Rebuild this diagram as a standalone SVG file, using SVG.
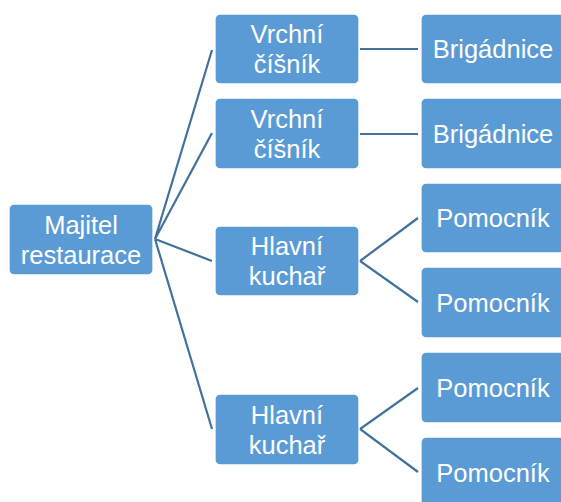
<svg xmlns="http://www.w3.org/2000/svg" width="561" height="502" viewBox="0 0 561 502">
<style>
.n{fill:#5B9BD5;stroke:#FFFFFF;stroke-width:1.3}
.t{font-family:"Liberation Sans",Arial,sans-serif;font-size:25.5px;fill:#FFFFFF;text-anchor:middle}
.c{stroke:#41719C;stroke-width:2.2;fill:none;stroke-linejoin:miter}
</style>
<rect width="561" height="502" fill="#FFFFFF"/>
<g id="connectors">
<path class="c" d="M155,239 L212,50 M155,239 L212,133 M155,239 L212,261 M155,239 L212,429"/>
<path class="c" d="M360,49 L418,49 M360,134 L418,134"/>
<path class="c" d="M418,218 L360,261 L418,302"/>
<path class="c" d="M418,388 L360,429 L418,472"/>
</g>
<g id="root">
<rect class="n" x="9" y="204" width="144" height="71" rx="5"/>
<text class="t"><tspan x="81" y="233.5">Majitel</tspan><tspan x="81" y="263.5">restaurace</tspan></text>
</g>
<g id="vrchni1">
<rect class="n" x="215" y="14" width="144" height="70" rx="5"/>
<text class="t"><tspan x="287" y="43">Vrchní</tspan><tspan x="287" y="73">číšník</tspan></text>
</g>
<g id="vrchni2">
<rect class="n" x="215" y="98" width="144" height="71" rx="5"/>
<text class="t"><tspan x="287" y="127.5">Vrchní</tspan><tspan x="287" y="157.5">číšník</tspan></text>
</g>
<g id="kuchar1">
<rect class="n" x="215" y="226" width="144" height="70" rx="5"/>
<text class="t"><tspan x="287" y="255">Hlavní</tspan><tspan x="287" y="285">kuchař</tspan></text>
</g>
<g id="kuchar2">
<rect class="n" x="215" y="394" width="144" height="71" rx="5"/>
<text class="t"><tspan x="287" y="423.5">Hlavní</tspan><tspan x="287" y="453.5">kuchař</tspan></text>
</g>
<g id="brig1">
<rect class="n" x="421" y="14" width="144" height="70" rx="5"/>
<text class="t" x="493" y="58">Brigádnice</text>
</g>
<g id="brig2">
<rect class="n" x="421" y="98" width="144" height="71" rx="5"/>
<text class="t" x="493" y="142.5">Brigádnice</text>
</g>
<g id="pom1">
<rect class="n" x="421" y="183" width="144" height="70" rx="5"/>
<text class="t" x="493" y="227">Pomocník</text>
</g>
<g id="pom2">
<rect class="n" x="421" y="267" width="144" height="71" rx="5"/>
<text class="t" x="493" y="311.5">Pomocník</text>
</g>
<g id="pom3">
<rect class="n" x="421" y="352" width="144" height="71" rx="5"/>
<text class="t" x="493" y="396.5">Pomocník</text>
</g>
<g id="pom4">
<rect class="n" x="421" y="437" width="144" height="71" rx="5"/>
<text class="t" x="493" y="481.5">Pomocník</text>
</g>
</svg>
